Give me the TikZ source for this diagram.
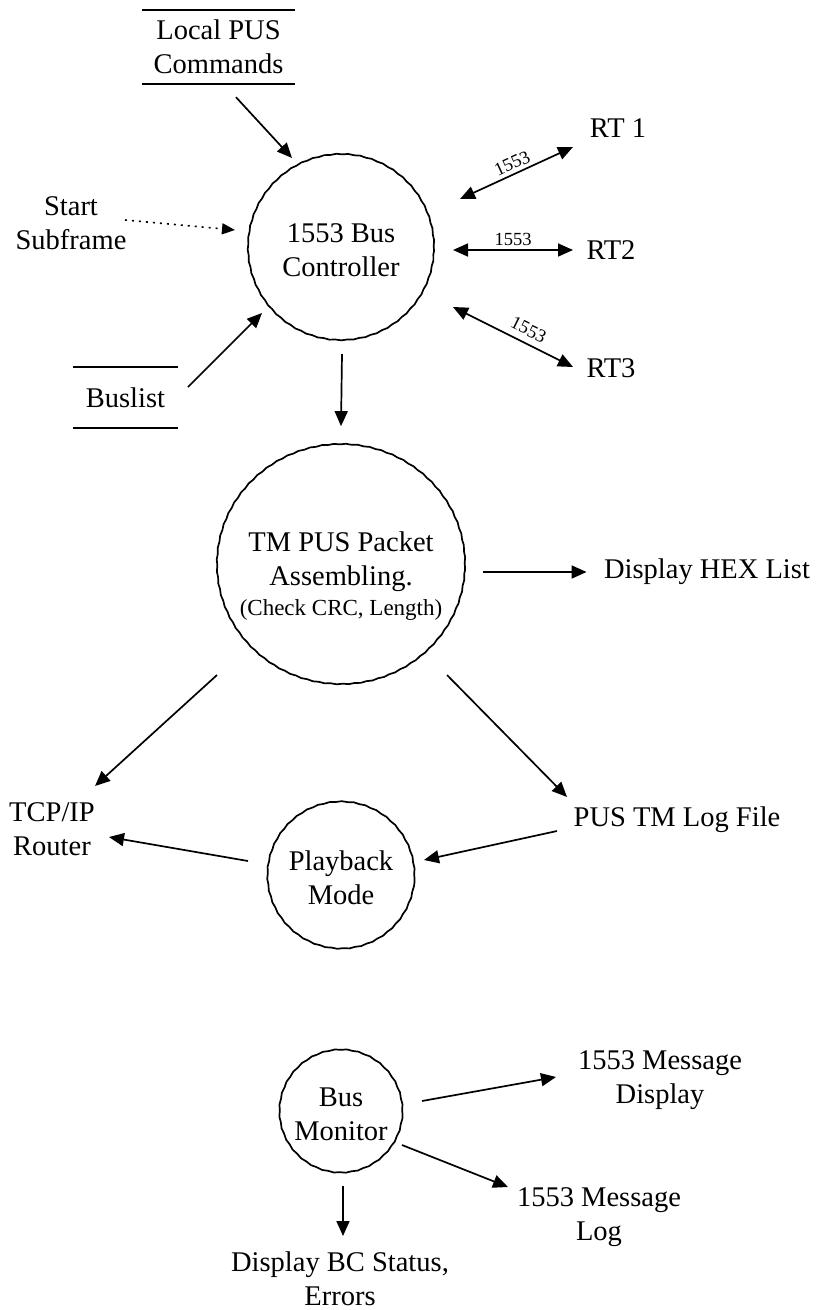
\documentclass[tikz,border=0pt]{standalone}
\usepackage{fontspec}
\setmainfont{Liberation Serif}
\usepackage{tikz}
\usetikzlibrary{calc}
\usetikzlibrary{arrows.meta,shapes.geometric,decorations.pathmorphing}

\begin{document}
\begin{tikzpicture}[x=1pt,y=-1pt,
        every node/.style={font=\fontsize{28.5}{34}\selectfont, align=center},
        bubble/.style={draw, circle, inner sep=0pt, line width=1.7pt, decorate,
            decoration={snake, amplitude=0.35pt, segment length=12pt}},
        store/.style={minimum height=74, inner sep=0pt},
        flow/.style={line width=1.7pt, -{Triangle[length=15pt,width=13pt]}},
        busline/.style={line width=1.7pt, {Triangle[length=15pt,width=13pt]}-{Triangle[length=15pt,width=13pt]}},
        buslabel/.style={font=\fontsize{18.5}{20}\selectfont, sloped, above=1pt, inner sep=2.5pt},
        trigger/.style={line width=1.6pt, dash pattern=on 2pt off 5pt, -{Triangle[length=13pt,width=11pt]}}]
            \useasboundingbox (0,0) rectangle (826,1310);

            % inputs
            \node[store, minimum width=153] (lpc) at (218.5,47) {Local PUS\\Commands};
            \draw[line width=1.7pt] (lpc.north west) -- (lpc.north east) (lpc.south west) -- (lpc.south east);
            \node (sub) at (71,223) {Start\\Subframe};
            \node[store, minimum width=105, minimum height=61] (bus) at (125.5,397.5) {Buslist};
            \draw[line width=1.7pt] (bus.north west) -- (bus.north east) (bus.south west) -- (bus.south east);

            % bus controller and remote terminals
            \node[bubble, minimum size=186] (bc) at (341,250) {1553 Bus\\Controller};
            \node (rt1) at (618,128) {RT 1};
            \node (rt2) at (611,250) {RT2};
            \node (rt3) at (611,368) {RT3};

            \draw[flow] ($(lpc.south)+(17.5,13)$) -- ($(bc)+(-49,-92)$);
            \draw[trigger] ($(sub)+(54,-3)$) -- ($(bc)+(-106,-20)$);
            \draw[flow] ($(bus)+(62.5,-10.5)$) -- ($(bc)+(-79,63)$);
            \draw[busline] ($(bc)+(119,-51)$) -- node[buslabel] {1553} ($(rt1)+(-45,19)$);
            \draw[busline] ($(bc)+(112,0)$) -- node[buslabel] {1553} ($(rt2)+(-38,0)$);
            \draw[busline] ($(bc)+(112,57)$) -- node[buslabel, pos=0.58, above=3pt] {1553} ($(rt3)+(-38,-1)$);

            % packet assembling
            \node[bubble, ellipse, minimum width=248, minimum height=240] (tm) at (341,567) {};
            \node (tmtext) at ($(tm)+(0,9)$)
                {TM PUS Packet\\Assembling.\\[-4pt]{\fontsize{23}{28}\selectfont (Check CRC, Length)}};
            \node (hex) at (707,572) {Display HEX List};
            \node (tcp) at (52,829) {TCP/IP\\Router};
            \node (log) at (677,820) {PUS TM Log File};
            \node[bubble, minimum size=147] (pb) at (341,878) {Playback\\Mode};

            \draw[flow] ($(bc)+(1,104)$) -- ($(tm.north)+(0,-20)$);
            \draw[flow] ($(tm.east)+(17,5)$) -- ($(hex.west)+(-14,0)$);
            \draw[flow] ($(tm)+(-124,108)$) -- ($(tcp)+(43,-43)$);
            \draw[flow] ($(tm)+(106,108)$) -- ($(log)+(-110,-23)$);
            \draw[flow] ($(log)+(-120,11)$) -- ($(pb)+(83,-18)$);
            \draw[flow] ($(pb)+(-93,-17)$) -- ($(tcp)+(57,8)$);

            % bus monitor
            \node[bubble, minimum size=123] (bm) at (341,1114) {Bus\\Monitor};
            \node (mdisp) at (660,1080) {1553 Message\\Display};
            \node (mlog) at (599,1217) {1553 Message\\Log};
            \node (bcs) at (340,1279) {Display BC Status,\\Errors};

            \draw[flow] ($(bm)+(81,-13)$) -- ($(mdisp)+(-104,-3)$);
            \draw[flow] ($(bm)+(61,31)$) -- ($(mlog)+(-91,-30)$);
            \draw[flow] ($(bm)+(2,72)$) -- ($(bcs)+(3,-43)$);
        \end{tikzpicture}
\end{document}
